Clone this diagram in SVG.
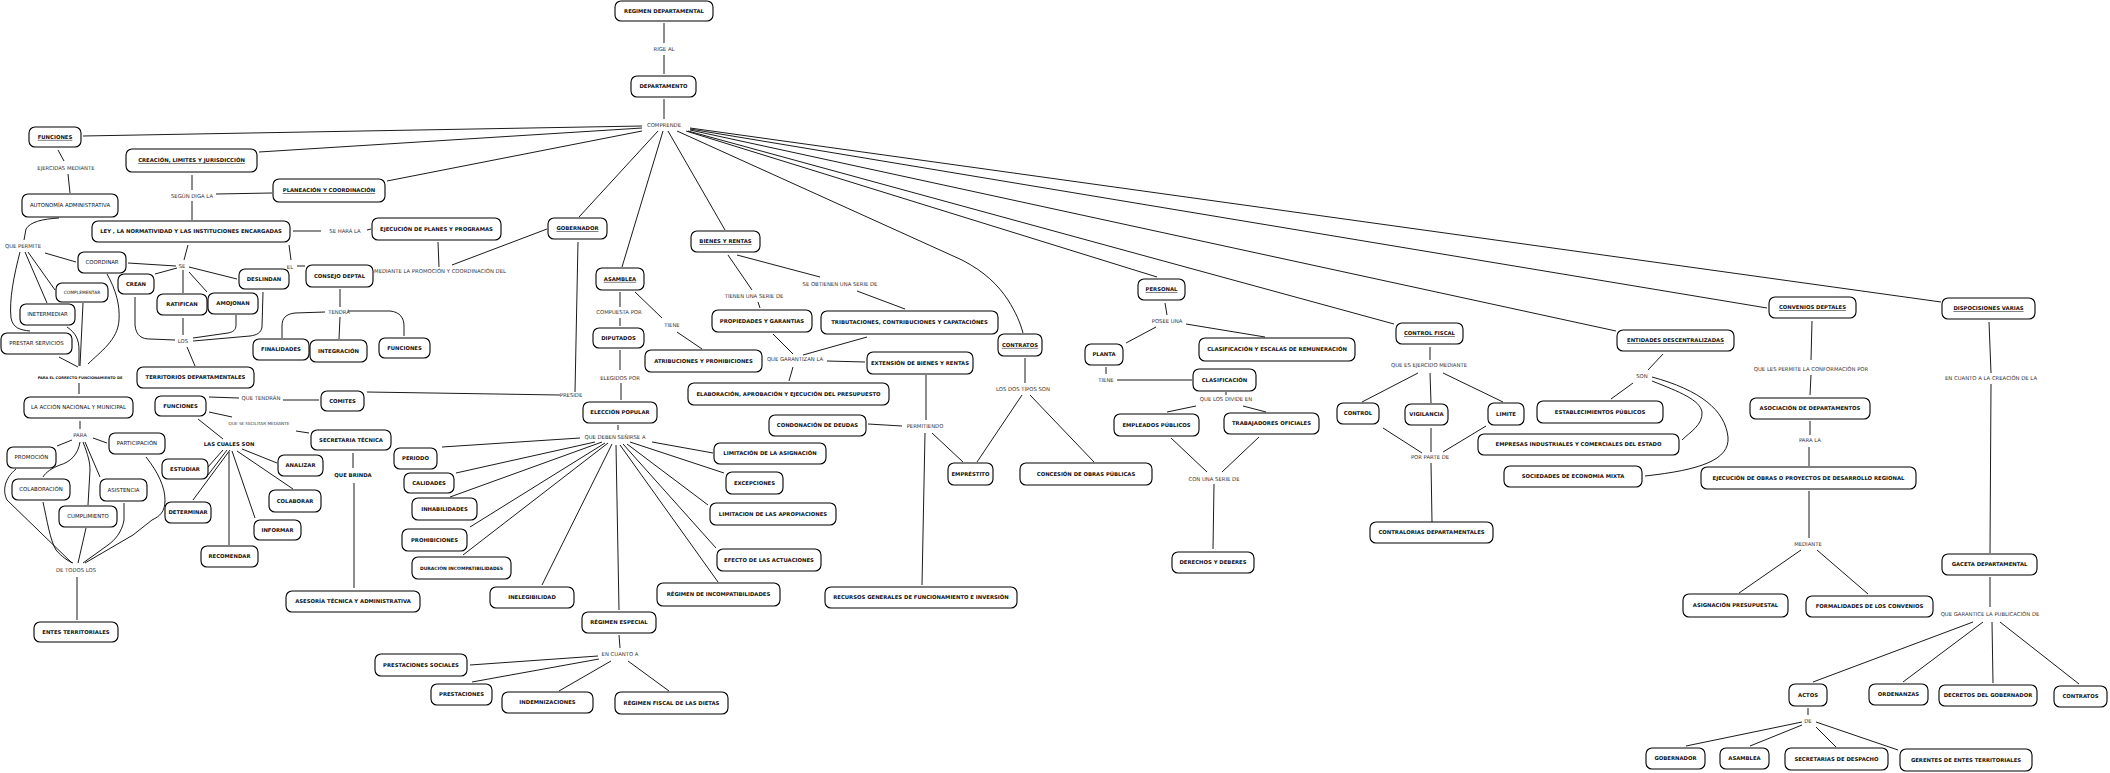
<svg xmlns="http://www.w3.org/2000/svg" width="2110" height="773" viewBox="0 0 2110 773">
<style>
.n rect{fill:#fff;stroke:#000;stroke-width:1.1}
text{font-family:"DejaVu Sans",Verdana,sans-serif;text-anchor:middle;fill:#111}
.b{font-size:5.3px;font-weight:bold}
.r{font-size:5.4px}
.u{text-decoration:underline}
.l{font-size:5.3px;fill:#333}
#edges path{fill:none;stroke:#000;stroke-width:0.9}
</style>
<rect width="2110" height="773" fill="#fff"/>
<g id="edges">
<path d="M664,23 L664,43 M664,55 L664,74 M664,99 L664,119"/>
<path d="M642,126 L83,136 M642,128 L259,152 M642,131 L387,181 M658,131 L579,217 M663,131 L622,267 M668,131 L725,230"/>
<path d="M677,131 L962,260 C985,272 998,285 1008,300 C1016,313 1020,322 1023,333"/>
<path d="M686,131 L1157,277 M688,131 L1394,324 M690,130 L1616,331 M690,129 L1767,308 M690,128 L1941,302"/>
<path d="M58,150 L64,161 M68,174 L70,193 M59,218 C42,219 30,222 26,229 L24,240"/>
<path d="M192,175 L192,190 M192,201 L192,220 M216,194 L272,193 M293,231 L321,231 M367,230 L371,229 M438,242 L439,267 M452,265 L547,229"/>
<path d="M188,245 L184,260 M289,245 L291,260 M297,266 L305,266 M128,263 L176,266 M155,274 L177,268 M183,270 L183,293 M189,272 L207,292 M189,267 L237,279"/>
<path d="M135,297 L135,325 C136,336 142,339 150,339 L175,340 M183,318 L183,335 M236,315 L236,325 C236,330 233,332 228,333 L193,338 M263,292 L262,327 C261,333 257,335 250,336 L193,341 M187,347 L195,366"/>
<path d="M340,289 L340,307 M325,312 L295,313 C286,314 282,318 282,326 L282,338 M340,317 L339,339 M348,311 L390,311 C400,312 404,318 404,326 L404,336"/>
<path d="M45,253 L76,262 M28,252 L55,290 M25,252 L47,303 M20,252 C14,275 9,300 11,318 C13,328 20,330 30,331"/>
<path d="M107,274 C116,290 120,305 119,320 C118,340 100,352 88,364 M83,303 L80,366 M67,327 C76,333 79,340 79,350 L79,366 M59,357 L78,367 M79,383 L79,394 M80,421 L80,429"/>
<path d="M93,438 L107,443 M72,440 L57,446 M80,442 C78,455 70,462 60,465 C52,468 46,472 43,477 M83,442 C88,455 90,462 90,470 L88,505 M85,442 L100,477"/>
<path d="M16,469 C5,478 2,490 7,500 L72,563 M43,502 C47,520 50,540 56,550 C62,557 68,561 73,563 M86,528 L78,563 M124,503 L124,520 C122,532 115,540 108,545 L83,563 M146,457 C158,472 165,487 165,500 C165,512 160,516 152,520 L133,535 L85,563 M77,577 L77,620"/>
<path d="M209,397 L239,398 M283,400 L319,400 M367,392 L560,395 M578,242 L575,392 M209,412 L232,417 M296,431 L309,433 M198,419 L223,439"/>
<path d="M223,450 L208,467 M227,450 L208,475 M230,450 L193,500 M229,452 L229,545 M232,451 L255,518 M237,451 L293,489 M242,449 L277,463 M353,453 L353,468 M354,483 L354,588"/>
<path d="M618,425 L618,430 M580,438 L442,447 M595,442 L456,473 M602,442 L450,497 M605,443 L470,527 M608,443 L463,555 M612,444 L542,585 M616,445 L619,610 M620,445 L718,582 M623,444 L716,548 M627,444 L708,505 M630,442 L724,473 M652,442 L713,453"/>
<path d="M620,292 L620,307 M620,318 L620,326 M635,292 L662,318 M677,332 L702,349 M620,350 L620,370 M621,383 L621,400"/>
<path d="M728,255 L752,290 M758,302 L760,308 M737,255 L820,277 M857,291 L905,309 M773,334 L793,354 M867,337 L803,355 M827,361 L865,362 M793,367 L789,381 M926,375 L926,420 M925,433 L922,585 M868,424 L902,426 M932,433 L963,462"/>
<path d="M1025,358 L1025,383 M1022,395 L977,462 M1030,395 L1094,462"/>
<path d="M1165,303 L1167,315 M1156,327 L1126,343 M1186,324 L1265,337 M1106,367 L1106,374 M1117,380 L1192,380 M1226,392 L1226,395 M1196,406 L1167,412 M1243,406 L1266,412 M1171,438 L1207,472 M1259,437 L1222,472 M1214,484 L1213,549"/>
<path d="M1430,347 L1430,360 M1418,373 L1362,402 M1430,373 L1431,403 M1443,373 L1503,402 M1383,428 L1422,453 M1431,428 L1431,452 M1486,426 L1443,452 M1431,463 L1432,522"/>
<path d="M1663,354 L1648,370 M1633,383 L1611,399 M1652,381 C1680,392 1700,400 1702,412 C1703,425 1690,432 1682,440 M1652,377 C1700,390 1725,410 1728,437 C1730,460 1700,470 1645,476"/>
<path d="M1812,321 L1811,360 M1811,375 L1810,395 M1810,421 L1810,435 M1809,447 L1809,466 M1809,491 L1809,538 M1801,550 L1739,593 M1817,550 L1868,594"/>
<path d="M1989,322 L1991,373 M1991,384 L1990,553 M1990,577 L1990,607 M1973,622 L1813,682 M1983,622 L1903,682 M1992,622 L1993,683 M2000,622 L2079,684 M1808,708 L1808,715 M1802,722 L1686,746 M1802,725 L1750,746 M1816,727 L1836,747 M1816,722 L1898,750"/>
<path d="M619,635 L620,648 M598,656 L470,665 M599,659 L472,682 M611,661 L559,691 M628,661 L669,691"/>
</g>
<g id="labels">
<text class="l" x="664" y="51">RIGE AL</text>
<text class="l" x="664" y="127">COMPRENDE</text>
<text class="l" x="66" y="170">EJERCIDAS MEDIANTE</text>
<text class="l" x="192" y="198">SEGÚN DIGA LA</text>
<text class="l" x="345" y="233">SE HARÁ LA</text>
<text class="l" x="23" y="248">QUE PERMITE</text>
<text class="l" x="182" y="268">SE</text>
<text class="l" x="290" y="269">EL</text>
<text class="l" x="440" y="273">MEDIANTE LA PROMOCIÓN Y COORDINACIÓN DEL</text>
<text class="l" x="183" y="343">LOS</text>
<text class="l" x="339" y="314">TENDRÁ</text>
<text class="b" style="font-size:3.6px" x="80" y="379.3">PARA EL CORRECTO FUNCIONAMIENTO DE</text>
<text class="l" x="261" y="400">QUE TENDRÁN</text>
<text class="l" style="font-size:4.2px" x="259" y="424.5">QUE SE FACILITAR MEDIANTE</text>
<text class="l" x="80" y="437">PARA</text>
<text class="b" x="229" y="446">LAS CUALES SON</text>
<text class="b" x="353" y="477">QUE BRINDA</text>
<text class="l" x="76" y="572">DE TODOS LOS</text>
<text class="l" x="619" y="314">COMPUESTA POR</text>
<text class="l" x="672" y="327">TIENE</text>
<text class="l" x="620" y="380">ELEGIDOS POR</text>
<text class="l" x="571" y="397">PRESIDE</text>
<text class="l" x="615" y="439">QUE DEBEN SEÑIRSE A</text>
<text class="l" x="754" y="298">TIENEN UNA SERIE DE</text>
<text class="l" x="840" y="286">SE OBTIENEN UNA SERIE DE</text>
<text class="l" x="795" y="361">QUE GARANTIZAN LA</text>
<text class="l" x="925" y="428">PERMITIENDO</text>
<text class="l" x="1023" y="391">LOS DOS TIPOS SON</text>
<text class="l" x="620" y="656">EN CUANTO A</text>
<text class="l" x="1167" y="323">POSEE UNA</text>
<text class="l" x="1106" y="382">TIENE</text>
<text class="l" x="1226" y="401">QUE LOS DIVIDE EN</text>
<text class="l" x="1214" y="481">CON UNA SERIE DE</text>
<text class="l" x="1429" y="367">QUE ES EJERCIDO MEDIANTE</text>
<text class="l" x="1430" y="459">POR PARTE DE</text>
<text class="l" x="1642" y="378">SON</text>
<text class="l" x="1811" y="371">QUE LES PERMITE LA CONFORMACIÓN POR</text>
<text class="l" x="1810" y="442">PARA LA</text>
<text class="l" x="1991" y="380">EN CUANTO A LA CREACIÓN DE LA</text>
<text class="l" x="1808" y="546">MEDIANTE</text>
<text class="l" x="1990" y="616">QUE GARANTICE LA PUBLICACIÓN DE</text>
<text class="l" x="1808" y="723">DE</text>
</g>
<g id="n1" class="n"><rect x="615" y="1" width="98" height="20" rx="6"/><text class="b" x="664" y="12.9">REGIMEN DEPARTAMENTAL</text></g>
<g id="n2" class="n"><rect x="631" y="76" width="65" height="21" rx="6"/><text class="b" x="663.5" y="88.4">DEPARTAMENTO</text></g>
<g id="n3" class="n"><rect x="29" y="127" width="52" height="20" rx="6"/><text class="b u" x="55" y="138.9">FUNCIONES</text></g>
<g id="n4" class="n"><rect x="126" y="149" width="131" height="23" rx="6"/><text class="b u" x="191.5" y="162.4">CREACIÓN, LIMITES Y JURISDICCIÓN</text></g>
<g id="n5" class="n"><rect x="273" y="179" width="112" height="23" rx="6"/><text class="b u" x="329" y="192.4">PLANEACIÓN Y COORDINACIÓN</text></g>
<g id="n6" class="n"><rect x="22" y="194" width="96" height="23" rx="6"/><text class="r" x="70" y="207.4">AUTONOMÍA ADMINISTRATIVA</text></g>
<g id="n7" class="n"><rect x="92" y="221" width="198" height="21" rx="6"/><text class="b" x="191" y="233.4">LEY , LA NORMATIVIDAD Y LAS INSTITUCIONES ENCARGADAS</text></g>
<g id="n8" class="n"><rect x="372" y="218" width="129" height="22" rx="6"/><text class="b" x="436.5" y="230.9">EJECUCIÓN DE PLANES Y PROGRAMAS</text></g>
<g id="n9" class="n"><rect x="548" y="218" width="59" height="21" rx="6"/><text class="b u" x="577.5" y="230.4">GOBERNADOR</text></g>
<g id="n10" class="n"><rect x="691" y="231" width="69" height="21" rx="6"/><text class="b u" x="725.5" y="243.4">BIENES Y RENTAS</text></g>
<g id="n11" class="n"><rect x="78" y="252" width="48" height="21" rx="6"/><text class="r" x="102" y="264.4">COORDINAR</text></g>
<g id="n12" class="n"><rect x="118" y="274" width="36" height="20" rx="6"/><text class="b" x="136" y="285.9">CREAN</text></g>
<g id="n13" class="n"><rect x="157" y="294" width="50" height="21" rx="6"/><text class="b" x="182" y="306.4">RATIFICAN</text></g>
<g id="n14" class="n"><rect x="208" y="293" width="50" height="21" rx="6"/><text class="b" x="233" y="305.4">AMOJONAN</text></g>
<g id="n15" class="n"><rect x="239" y="269" width="50" height="20" rx="6"/><text class="b" x="264" y="280.9">DESLINDAN</text></g>
<g id="n16" class="n"><rect x="306" y="265" width="67" height="22" rx="6"/><text class="b" x="339.5" y="277.9">CONSEJO DEPTAL</text></g>
<g id="n17" class="n"><rect x="56" y="283" width="52" height="19" rx="6"/><text class="r" style="font-size:4.4px" x="82" y="294">COMPLEMENTAR</text></g>
<g id="n18" class="n"><rect x="20" y="304" width="55" height="21" rx="6"/><text class="r" x="47.5" y="316.4">INETERMEDIAR</text></g>
<g id="n19" class="n"><rect x="1" y="333" width="71" height="21" rx="6"/><text class="r" x="36.5" y="345.4">PRESTAR SERVICIOS</text></g>
<g id="n20" class="n"><rect x="253" y="339" width="56" height="21" rx="6"/><text class="b" x="281" y="351.4">FINALIDADES</text></g>
<g id="n21" class="n"><rect x="310" y="340" width="57" height="22" rx="6"/><text class="b" x="338.5" y="352.9">INTEGRACIÓN</text></g>
<g id="n22" class="n"><rect x="379" y="338" width="51" height="20" rx="6"/><text class="b" x="404.5" y="349.9">FUNCIONES</text></g>
<g id="n23" class="n"><rect x="137" y="367" width="117" height="21" rx="6"/><text class="b" x="195.5" y="379.4">TERRITORIOS DEPARTAMENTALES</text></g>
<g id="n24" class="n"><rect x="24" y="397" width="109" height="21" rx="6"/><text class="r" x="78.5" y="409.4">LA ACCIÓN NACIÓNAL Y MUNICIPAL</text></g>
<g id="n25" class="n"><rect x="155" y="396" width="51" height="20" rx="6"/><text class="b" x="180.5" y="407.9">FUNCIONES</text></g>
<g id="n26" class="n"><rect x="321" y="391" width="43" height="20" rx="6"/><text class="b" x="342.5" y="402.9">COMITES</text></g>
<g id="n27" class="n"><rect x="311" y="430" width="80" height="20" rx="6"/><text class="b" x="351" y="441.9">SECRETARIA TÉCNICA</text></g>
<g id="n28" class="n"><rect x="109" y="433" width="56" height="21" rx="6"/><text class="r" x="137" y="445.4">PARTICIPACIÓN</text></g>
<g id="n29" class="n"><rect x="7" y="447" width="49" height="21" rx="6"/><text class="r" x="31.5" y="459.4">PROMOCIÓN</text></g>
<g id="n30" class="n"><rect x="162" y="459" width="46" height="20" rx="6"/><text class="b" x="185" y="470.9">ESTUDIAR</text></g>
<g id="n31" class="n"><rect x="278" y="455" width="45" height="21" rx="6"/><text class="b" x="300.5" y="467.4">ANALIZAR</text></g>
<g id="n32" class="n"><rect x="394" y="448" width="43" height="21" rx="6"/><text class="b" x="415.5" y="460.4">PERIODO</text></g>
<g id="n33" class="n"><rect x="404" y="473" width="50" height="20" rx="6"/><text class="b" x="429" y="484.9">CALIDADES</text></g>
<g id="n34" class="n"><rect x="12" y="479" width="58" height="21" rx="6"/><text class="r" x="41" y="491.4">COLABORACIÓN</text></g>
<g id="n35" class="n"><rect x="100" y="479" width="47" height="22" rx="6"/><text class="r" x="123.5" y="491.9">ASISTENCIA</text></g>
<g id="n36" class="n"><rect x="269" y="490" width="52" height="22" rx="6"/><text class="b" x="295" y="502.9">COLABORAR</text></g>
<g id="n37" class="n"><rect x="59" y="506" width="58" height="21" rx="6"/><text class="r" x="88" y="518.4">CUMPLIMIENTO</text></g>
<g id="n38" class="n"><rect x="165" y="502" width="46" height="21" rx="6"/><text class="b" x="188" y="514.4">DETERMINAR</text></g>
<g id="n39" class="n"><rect x="412" y="498" width="65" height="22" rx="6"/><text class="b" x="444.5" y="510.9">INHABILIDADES</text></g>
<g id="n40" class="n"><rect x="254" y="520" width="47" height="20" rx="6"/><text class="b" x="277.5" y="531.9">INFORMAR</text></g>
<g id="n41" class="n"><rect x="34" y="622" width="84" height="20" rx="6"/><text class="b" x="76" y="633.9">ENTES TERRITORIALES</text></g>
<g id="n42" class="n"><rect x="201" y="546" width="57" height="21" rx="6"/><text class="b" x="229.5" y="558.4">RECOMENDAR</text></g>
<g id="n43" class="n"><rect x="286" y="591" width="134" height="21" rx="6"/><text class="b" x="353" y="603.4">ASESORÍA TÉCNICA Y ADMINISTRATIVA</text></g>
<g id="n44" class="n"><rect x="402" y="529" width="65" height="22" rx="6"/><text class="b" x="434.5" y="541.9">PROHIBICIONES</text></g>
<g id="n45" class="n"><rect x="412" y="557" width="99" height="22" rx="6"/><text class="b" style="font-size:4.5px" x="461.5" y="569.6">DURACIÓN INCOMPATIBILIDADES</text></g>
<g id="n46" class="n"><rect x="490" y="587" width="84" height="21" rx="6"/><text class="b" x="532" y="599.4">INELEGIBILIDAD</text></g>
<g id="n47" class="n"><rect x="375" y="654" width="92" height="22" rx="6"/><text class="b" x="421" y="666.9">PRESTACIONES SOCIALES</text></g>
<g id="n48" class="n"><rect x="431" y="684" width="61" height="21" rx="6"/><text class="b" x="461.5" y="696.4">PRESTACIONES</text></g>
<g id="n49" class="n"><rect x="502" y="692" width="91" height="21" rx="6"/><text class="b" x="547.5" y="704.4">INDEMNIZACIONES</text></g>
<g id="n50" class="n"><rect x="596" y="268" width="48" height="22" rx="6"/><text class="b u" x="620" y="280.9">ASAMBLEA</text></g>
<g id="n51" class="n"><rect x="593" y="328" width="51" height="20" rx="6"/><text class="b" x="618.5" y="339.9">DIPUTADOS</text></g>
<g id="n52" class="n"><rect x="645" y="350" width="117" height="22" rx="6"/><text class="b" x="703.5" y="362.9">ATRIBUCIONES Y PROHIBICIONES</text></g>
<g id="n53" class="n"><rect x="583" y="402" width="74" height="21" rx="6"/><text class="b" x="620" y="414.4">ELECCIÓN POPULAR</text></g>
<g id="n54" class="n"><rect x="712" y="310" width="100" height="22" rx="6"/><text class="b" x="762" y="322.9">PROPIEDADES Y GARANTIAS</text></g>
<g id="n55" class="n"><rect x="821" y="311" width="177" height="23" rx="6"/><text class="b" x="909.5" y="324.4">TRIBUTACIONES, CONTRIBUCIONES Y CAPATACIÓNES</text></g>
<g id="n56" class="n"><rect x="867" y="352" width="106" height="22" rx="6"/><text class="b" x="920" y="364.9">EXTENSIÓN DE BIENES Y RENTAS</text></g>
<g id="n57" class="n"><rect x="688" y="383" width="201" height="22" rx="6"/><text class="b" x="788.5" y="395.9">ELABORACIÓN, APROBACIÓN Y EJECUCIÓN DEL PRESUPUESTO</text></g>
<g id="n58" class="n"><rect x="769" y="415" width="97" height="21" rx="6"/><text class="b" x="817.5" y="427.4">CONDONACIÓN DE DEUDAS</text></g>
<g id="n59" class="n"><rect x="714" y="443" width="112" height="21" rx="6"/><text class="b" x="770" y="455.4">LIMITACIÓN DE LA ASIGNACIÓN</text></g>
<g id="n60" class="n"><rect x="726" y="472" width="57" height="22" rx="6"/><text class="b" x="754.5" y="484.9">EXCEPCIONES</text></g>
<g id="n61" class="n"><rect x="710" y="503" width="126" height="22" rx="6"/><text class="b" x="773" y="515.9">LIMITACION DE LAS APROPIACIONES</text></g>
<g id="n62" class="n"><rect x="998" y="334" width="44" height="22" rx="6"/><text class="b u" x="1020" y="346.9">CONTRATOS</text></g>
<g id="n63" class="n"><rect x="948" y="463" width="45" height="22" rx="6"/><text class="b" x="970.5" y="475.9">EMPRÉSTITO</text></g>
<g id="n64" class="n"><rect x="1020" y="463" width="132" height="22" rx="6"/><text class="b" x="1086" y="475.9">CONCESIÓN DE OBRAS PÚBLICAS</text></g>
<g id="n65" class="n"><rect x="717" y="549" width="104" height="22" rx="6"/><text class="b" x="769" y="561.9">EFECTO DE LAS ACTUACIONES</text></g>
<g id="n66" class="n"><rect x="657" y="583" width="123" height="23" rx="6"/><text class="b" x="718.5" y="596.4">RÉGIMEN DE INCOMPATIBILIDADES</text></g>
<g id="n67" class="n"><rect x="825" y="587" width="192" height="21" rx="6"/><text class="b" x="921" y="599.4">RECURSOS GENERALES DE FUNCIONAMIENTO E INVERSIÓN</text></g>
<g id="n68" class="n"><rect x="582" y="612" width="74" height="21" rx="6"/><text class="b" x="619" y="624.4">RÉGIMEN ESPECIAL</text></g>
<g id="n69" class="n"><rect x="615" y="692" width="113" height="22" rx="6"/><text class="b" x="671.5" y="704.9">RÉGIMEN FISCAL DE LAS DIETAS</text></g>
<g id="n70" class="n"><rect x="1138" y="279" width="47" height="21" rx="6"/><text class="b u" x="1161.5" y="291.4">PERSONAL</text></g>
<g id="n71" class="n"><rect x="1085" y="344" width="38" height="21" rx="6"/><text class="b" x="1104" y="356.4">PLANTA</text></g>
<g id="n72" class="n"><rect x="1199" y="338" width="156" height="23" rx="6"/><text class="b" x="1277" y="351.4">CLASIFICACIÓN Y ESCALAS DE REMUNERACIÓN</text></g>
<g id="n73" class="n"><rect x="1193" y="369" width="63" height="22" rx="6"/><text class="b" x="1224.5" y="381.9">CLASIFICACIÓN</text></g>
<g id="n74" class="n"><rect x="1114" y="414" width="85" height="22" rx="6"/><text class="b" x="1156.5" y="426.9">EMPLEADOS PÚBLICOS</text></g>
<g id="n75" class="n"><rect x="1224" y="413" width="95" height="21" rx="6"/><text class="b" x="1271.5" y="425.4">TRABAJADORES OFICIALES</text></g>
<g id="n76" class="n"><rect x="1396" y="323" width="67" height="21" rx="6"/><text class="b u" x="1429.5" y="335.4">CONTROL FISCAL</text></g>
<g id="n77" class="n"><rect x="1337" y="403" width="42" height="21" rx="6"/><text class="b" x="1358" y="415.4">CONTROL</text></g>
<g id="n78" class="n"><rect x="1405" y="404" width="43" height="21" rx="6"/><text class="b" x="1426.5" y="416.4">VIGILANCIA</text></g>
<g id="n79" class="n"><rect x="1488" y="403" width="36" height="22" rx="6"/><text class="b" x="1506" y="415.9">LIMITE</text></g>
<g id="n80" class="n"><rect x="1370" y="522" width="123" height="21" rx="6"/><text class="b" x="1431.5" y="534.4">CONTRALORIAS DEPARTAMENTALES</text></g>
<g id="n81" class="n"><rect x="1172" y="552" width="82" height="21" rx="6"/><text class="b" x="1213" y="564.4">DERECHOS Y DEBERES</text></g>
<g id="n82" class="n"><rect x="1617" y="330" width="117" height="21" rx="6"/><text class="b u" x="1675.5" y="342.4">ENTIDADES DESCENTRALIZADAS</text></g>
<g id="n83" class="n"><rect x="1537" y="401" width="126" height="22" rx="6"/><text class="b" x="1600" y="413.9">ESTABLECIMIENTOS PÚBLICOS</text></g>
<g id="n84" class="n"><rect x="1478" y="434" width="201" height="21" rx="6"/><text class="b" x="1578.5" y="446.4">EMPRESAS INDUSTRIALES Y COMERCIALES DEL ESTADO</text></g>
<g id="n85" class="n"><rect x="1504" y="466" width="138" height="21" rx="6"/><text class="b" x="1573" y="478.4">SOCIEDADES DE ECONOMIA MIXTA</text></g>
<g id="n86" class="n"><rect x="1769" y="297" width="87" height="21" rx="6"/><text class="b u" x="1812.5" y="309.4">CONVENIOS DEPTALES</text></g>
<g id="n87" class="n"><rect x="1750" y="398" width="120" height="21" rx="6"/><text class="b" x="1810" y="410.4">ASOCIACIÓN DE DEPARTAMENTOS</text></g>
<g id="n88" class="n"><rect x="1701" y="467" width="215" height="22" rx="6"/><text class="b" x="1808.5" y="479.9">EJECUCIÓN DE OBRAS O PROYECTOS DE DESARROLLO REGIONAL</text></g>
<g id="n89" class="n"><rect x="1942" y="298" width="93" height="21" rx="6"/><text class="b u" x="1988.5" y="310.4">DISPOCISIONES VARIAS</text></g>
<g id="n90" class="n"><rect x="1683" y="594" width="105" height="23" rx="6"/><text class="b" x="1735.5" y="607.4">ASIGNACIÓN PRESUPUESTAL</text></g>
<g id="n91" class="n"><rect x="1806" y="596" width="127" height="21" rx="6"/><text class="b" x="1869.5" y="608.4">FORMALIDADES DE LOS CONVENIOS</text></g>
<g id="n92" class="n"><rect x="1942" y="554" width="95" height="21" rx="6"/><text class="b" x="1989.5" y="566.4">GACETA DEPARTAMENTAL</text></g>
<g id="n93" class="n"><rect x="1789" y="684" width="38" height="22" rx="6"/><text class="b" x="1808" y="696.9">ACTOS</text></g>
<g id="n94" class="n"><rect x="1869" y="684" width="59" height="21" rx="6"/><text class="b" x="1898.5" y="696.4">ORDENANZAS</text></g>
<g id="n95" class="n"><rect x="1939" y="685" width="98" height="21" rx="6"/><text class="b" x="1988" y="697.4">DECRETOS DEL GOBERNADOR</text></g>
<g id="n96" class="n"><rect x="2054" y="686" width="53" height="21" rx="6"/><text class="b" x="2080.5" y="698.4">CONTRATOS</text></g>
<g id="n97" class="n"><rect x="1646" y="748" width="59" height="21" rx="6"/><text class="b" x="1675.5" y="760.4">GOBERNADOR</text></g>
<g id="n98" class="n"><rect x="1720" y="748" width="49" height="21" rx="6"/><text class="b" x="1744.5" y="760.4">ASAMBLEA</text></g>
<g id="n99" class="n"><rect x="1785" y="748" width="103" height="22" rx="6"/><text class="b" x="1836.5" y="760.9">SECRETARIAS DE DESPACHO</text></g>
<g id="n100" class="n"><rect x="1900" y="749" width="132" height="22" rx="6"/><text class="b" x="1966" y="761.9">GERENTES DE ENTES TERRITORIALES</text></g>
</svg>
